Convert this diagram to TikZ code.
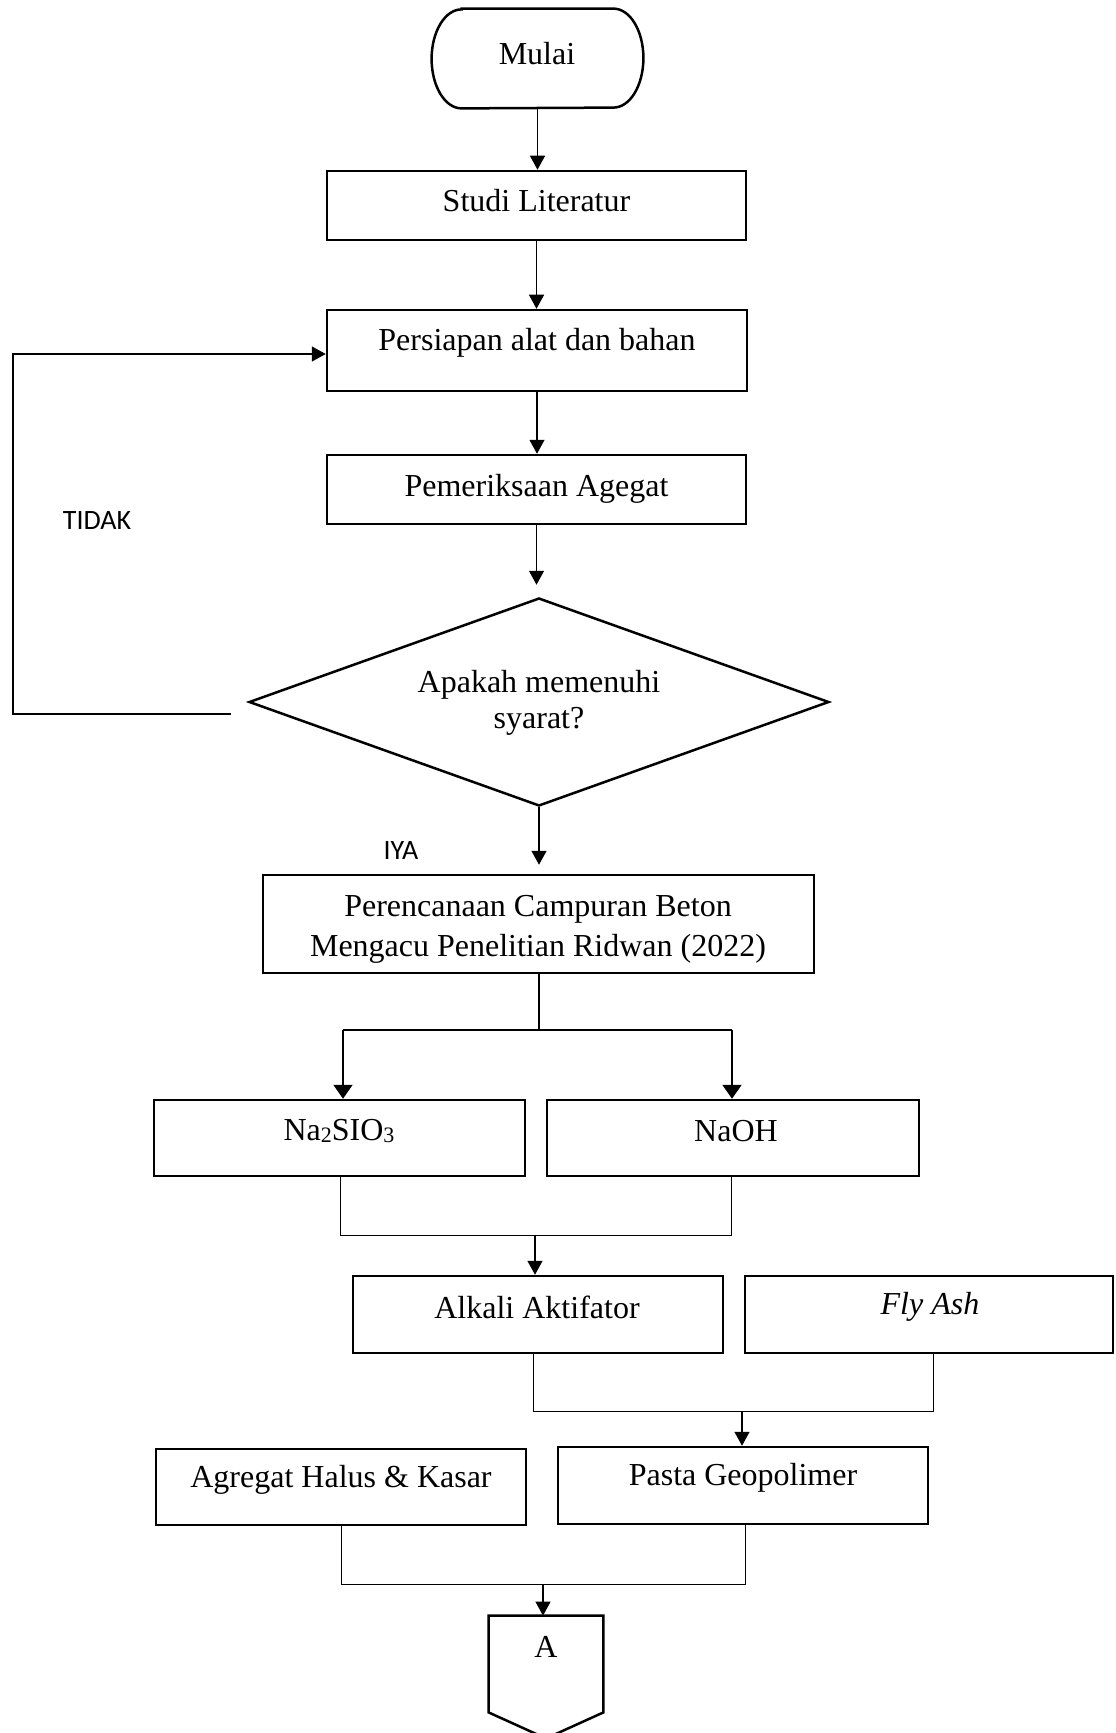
\documentclass[tikz,border=0pt]{standalone}
\usepackage{fontspec}
\setmainfont{Liberation Serif}
\newfontfamily\calibfont{Carlito}
\usetikzlibrary{arrows.meta,shapes.geometric}
\newcommand{\mysub}[1]{\raisebox{-1pt}{\fontsize{11}{12}\selectfont #1}}
\begin{document}
\begin{tikzpicture}[x=0.5pt,y=-0.5pt,
  box/.style={draw, line width=1.25pt, inner sep=0pt},
  conn/.style={line width=0.65pt},
  thinline/.style={line width=0.5pt},
  thickline/.style={line width=1pt},
  tip/.style={-{Triangle[length=7pt,width=7.5pt]}},
  widetip/.style={-{Triangle[length=7pt,width=9.5pt]}},
  txt/.style={inner sep=0pt, font=\fontsize{16}{18}\selectfont, align=center},
  lbl/.style={inner sep=0pt, font=\calibfont\fontsize{14}{16}\selectfont}]
\useasboundingbox (0,0) rectangle (1115,1733);

% Mulai (terminal)
\node[minimum width=105.5pt, minimum height=49.5pt, inner sep=0pt] (mulai) at (537.5,58.5) {};
\draw[line width=1.25pt] ([xshift=15pt]mulai.north west) -- ([xshift=-15pt]mulai.north east)
  arc[start angle=90,end angle=-90,x radius=15pt,y radius=24.75pt]
  -- ([xshift=15pt]mulai.south west)
  arc[start angle=270,end angle=90,x radius=15pt,y radius=24.75pt] -- cycle;
\node[txt] (mulait) at (537,54) {Mulai};

\node[box, minimum width=209.5pt, minimum height=34.5pt] (studi) at (536.5,205.5) {};
\node[txt] (studit) at (536.5,201) {Studi Literatur};

\node[box, minimum width=210pt, minimum height=40.5pt] (persiapan) at (537,350.5) {};
\node[txt] (persiapant) at (537,343) {Persiapan alat dan bahan};

\node[box, minimum width=209.5pt, minimum height=34.5pt] (periksa) at (536.5,489.5) {};
\node[txt] (periksat) at (536.5,489) {Pemeriksaan Agegat};

\node[box, diamond, minimum width=290pt, minimum height=104pt] (syarat) at (539,702) {};
\node[txt] (syaratt) at (539,703) {Apakah memenuhi\\syarat?};

\node[lbl] (tidak) at (97,521) {TIDAK};
\node[lbl] (iya) at (401,851) {IYA};

\node[box, minimum width=275.5pt, minimum height=49pt] (rencana) at (538.5,924) {};
\node[txt, font=\fontsize{16}{20}\selectfont] (rencanat) at (538,929) {Perencanaan Campuran Beton\\Mengacu Penelitian Ridwan (2022)};

\node[box, minimum width=185.5pt, minimum height=38pt] (na) at (339.5,1138) {};
\node[txt] (nat) at (339,1131) {Na\mysub{2}SIO\mysub{3}};

\node[box, minimum width=186pt, minimum height=38pt] (naoh) at (733,1138) {};
\node[txt] (naoht) at (736,1131) {NaOH};

\node[box, minimum width=185pt, minimum height=38.5pt] (alkali) at (538,1314.5) {};
\node[txt] (alkalit) at (537,1307) {Alkali Aktifator};

\node[box, minimum width=184pt, minimum height=38.5pt] (fly) at (929,1314.5) {};
\node[txt] (flyt) at (930,1307) {\textit{Fly Ash}};

\node[box, minimum width=185pt, minimum height=38pt] (agregat) at (341,1487) {};
\node[txt] (agregatt) at (341,1480) {Agregat Halus \& Kasar};

\node[box, minimum width=185pt, minimum height=38.5pt] (pasta) at (743,1485.5) {};
\node[txt] (pastat) at (743,1478) {Pasta Geopolimer};

% off-page connector A
\node[minimum width=57pt, minimum height=48pt, inner sep=0pt] (aconn) at (546,1664) {};
\draw[line width=1.25pt] (aconn.north west) -- (aconn.north east) -- (aconn.south east)
  -- ([yshift=-13pt]aconn.south) -- (aconn.south west) -- cycle;
\node[txt] (aconnt) at (546,1647) {A};

% connectors
\draw[conn,tip] (mulai.south) -- (mulai.south |- studi.north);
\draw[conn,tip] (studi.south) -- (studi.south |- persiapan.north);
\draw[conn,tip] (persiapan.south) -- (persiapan.south |- periksa.north);
\draw[conn,tip,shorten >=6pt] (periksa.south) -- (periksa.south |- syarat.north);
\draw[conn,tip,shorten >=4.5pt] (syarat.south) -- (syarat.south |- rencana.north);

\coordinate (fb) at (231,714);
\coordinate (fbc) at (13,354);
\draw[conn,tip] (fb) -- (fb -| fbc) -- (fbc) -- (fbc -| persiapan.west);

\coordinate (sp) at (538.5,1030);
\coordinate (spL) at (343,1030);
\coordinate (spR) at (732,1030);
\draw[thickline] (rencana.south) -- (sp);
\draw[thickline] (spL) -- (spR);
\draw[thickline,widetip] (spL) -- (spL |- na.north);
\draw[thickline,widetip] (spR) -- (spR |- naoh.north);

\coordinate (m1L) at (340,1235);
\coordinate (m1R) at (731,1235);
\coordinate (m1) at (535,1235);
\draw[thinline] (m1L |- na.south) -- (m1L) -- (m1R) -- (m1R |- naoh.south);
\draw[conn,tip] (m1) -- (m1 |- alkali.north);

\coordinate (m2L) at (533,1411);
\coordinate (m2R) at (933,1411);
\coordinate (m2) at (742,1411);
\draw[thinline] (m2L |- alkali.south) -- (m2L) -- (m2R) -- (m2R |- fly.south);
\draw[conn,tip] (m2) -- (m2 |- pasta.north);

\coordinate (m3L) at (341,1584);
\coordinate (m3R) at (745,1584);
\coordinate (m3) at (543,1584);
\draw[thinline] (m3L |- agregat.south) -- (m3L) -- (m3R) -- (m3R |- pasta.south);
\draw[conn,tip] (m3) -- (m3 |- aconn.north);
\end{tikzpicture}
\end{document}
